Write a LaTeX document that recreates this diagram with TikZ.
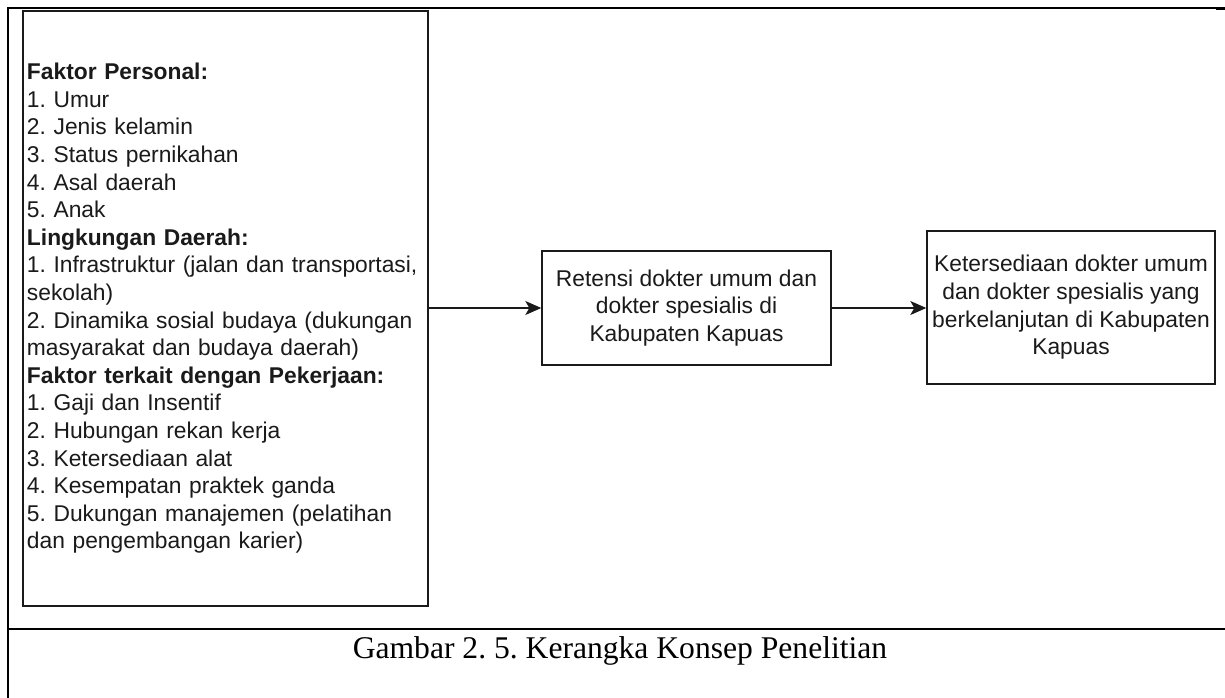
\documentclass[tikz,border=0pt]{standalone}
\usepackage{fontspec}
\setmainfont{Liberation Serif}
\setsansfont{Liberation Sans}
\usetikzlibrary{arrows.meta}
\frenchspacing
\definecolor{ink}{HTML}{1A1A1A}
\tikzset{
  frame/.style={line width=2.2pt, black},
  conceptbox/.style={draw=ink, line width=1.4pt, fill=white, inner sep=0pt,
    font=\sffamily\fontsize{22.8}{27.6}\selectfont, text=ink},
  flow/.style={line width=1.4pt, draw=ink, -{Stealth[length=16pt,width=14pt,inset=4pt]}},
  captiontext/.style={font=\rmfamily\fontsize{31.6}{36}\selectfont, text=black, inner sep=0pt}
}
\begin{document}
\begin{tikzpicture}[x=1pt,y=-1pt]
\useasboundingbox (0,0) rectangle (1225,698);

% table frame around the figure and its caption
\draw[frame] (8,8) -- (1216,8);
\draw[line width=3pt] (1216,9) -- (1225,9);
\draw[frame] (8,7) -- (8,698);
\draw[frame] (8,629) -- (1225,629);

% factors
\node[conceptbox, minimum width=405pt, minimum height=595pt, text width=397pt,
      align=left, inner xsep=4pt] (factors) at (225.5,308.5)
{\textbf{Faktor Personal:}\\
1. Umur\\
2. Jenis kelamin\\
3. Status pernikahan\\
4. Asal daerah\\
5. Anak\\
\textbf{Lingkungan Daerah:}\\
1. Infrastruktur (jalan dan transportasi,\\
sekolah)\\
2. Dinamika sosial budaya (dukungan\\
masyarakat dan budaya daerah)\\
\textbf{Faktor terkait dengan Pekerjaan:}\\
1. Gaji dan Insentif\\
2. Hubungan rekan kerja\\
3. Ketersediaan alat\\
4. Kesempatan praktek ganda\\
5. Dukungan manajemen (pelatihan\\
dan pengembangan karier)};

% retention
\node[conceptbox, minimum width=289pt, minimum height=114pt, align=center]
  (retensi) at (686.5,308)
{Retensi dokter umum dan\\ dokter spesialis di\\ Kabupaten Kapuas};

% outcome
\node[conceptbox, minimum width=288pt, minimum height=153pt, align=center]
  (ketersediaan) at (1071,307.5)
{Ketersediaan dokter umum\\ dan dokter spesialis yang\\ berkelanjutan di Kabupaten\\ Kapuas};

\draw[flow] (factors.east |- retensi.west) -- (retensi.west);
\draw[flow] (retensi.east) -- (retensi.east -| ketersediaan.west);

% caption
\node[captiontext, anchor=base] (caption) at (620,658)
  {Gambar 2. 5. Kerangka Konsep Penelitian};
\end{tikzpicture}
\end{document}
